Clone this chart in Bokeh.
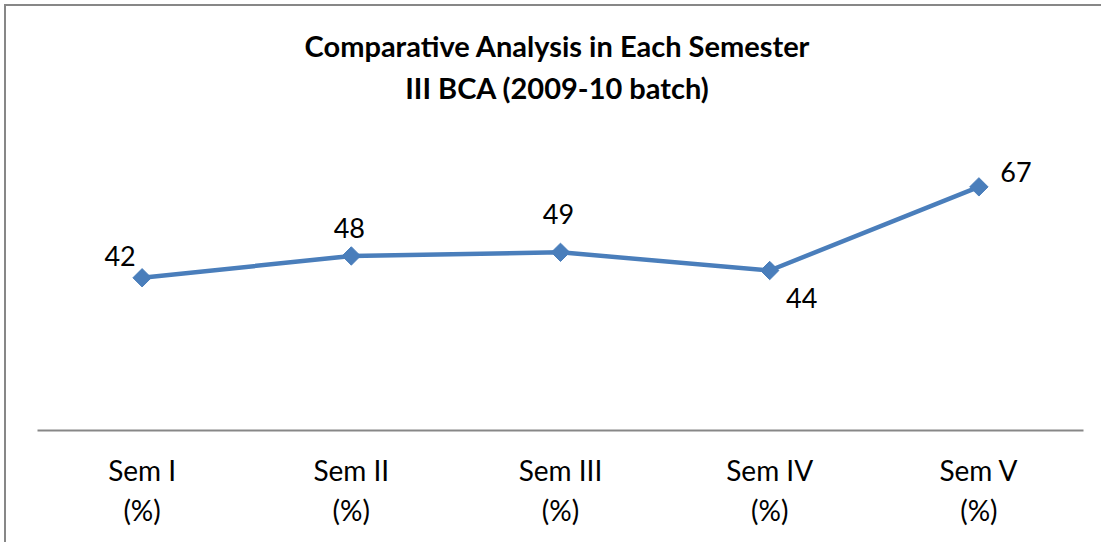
import math
from bokeh.plotting import figure
from bokeh.models import Range1d, FactorRange, ColumnDataSource, Label
from bokeh.core.properties import value
from bokeh.embed import file_html
from bokeh.resources import INLINE

categories = ["Sem I\n(%)", "Sem II\n(%)", "Sem III\n(%)", "Sem IV\n(%)", "Sem V\n(%)"]
values = [42, 48, 49, 44, 67]
labels = ["42", "48", "49", "44", "67"]
title_lines = ["Comparative Analysis in Each Semester", "III BCA (2009-10 batch)"]

# label placement offsets (screen px), styling only
label_dx = [-22, -2, -2, 32, 37]
label_dy = [-22, -28, -38, 27, -15]

FONT = "Lato"
BLUE = "#4A7EBB"
GRAY = "#878787"

src = ColumnDataSource(dict(x=categories, y=values, t=labels, dx=label_dx, dy=label_dy))

# frame spans the title area too (no y axis shown); 0..80 maps to the lower 291 px
p = figure(width=1097, height=538, x_range=FactorRange(*categories, range_padding=0),
           y_range=Range1d(0, 115.5), output_backend="svg", toolbar_location=None,
           y_axis_location=None, min_border_left=31, min_border_right=20,
           min_border_top=4, min_border_bottom=114)
p.title = None
p.margin = (4, 0, 0, 4)
p.styles = {"border-top": "2px solid " + GRAY, "border-left": "2px solid " + GRAY}
p.outline_line_color = None
p.xgrid.grid_line_color = None
p.ygrid.grid_line_color = None
p.background_fill_color = "white"
p.border_fill_color = "white"

# screen units are measured from the frame's bottom-left corner
for i, line in enumerate(title_lines):
    p.add_layout(Label(x=520, y=385 - 42 * i, x_units="screen", y_units="screen", text=line,
                       text_font=FONT, text_font_size="29px", text_font_style="bold",
                       text_color="black", text_align="center", text_baseline="middle"))

ax = p.xaxis[0]
ax.axis_line_color = GRAY
ax.axis_line_width = 2
ax.major_tick_line_color = None
ax.minor_tick_line_color = None
ax.major_label_standoff = 16
ax.major_label_text_font = FONT
ax.major_label_text_font_size = "28px"
ax.major_label_text_color = "black"
ax.major_label_text_line_height = 1.19

p.line("x", "y", source=src, line_color=BLUE, line_width=4.5)
p.scatter("x", "y", source=src, marker="square", angle=math.pi / 4, size=13,
          fill_color=BLUE, line_color=BLUE)

p.text("x", "y", text="t", source=src, x_offset="dx", y_offset="dy",
       text_font=value(FONT), text_font_size="27px", text_color="black",
       text_align="center", text_baseline="middle")

open("out.html", "w").write(file_html(p, INLINE))
